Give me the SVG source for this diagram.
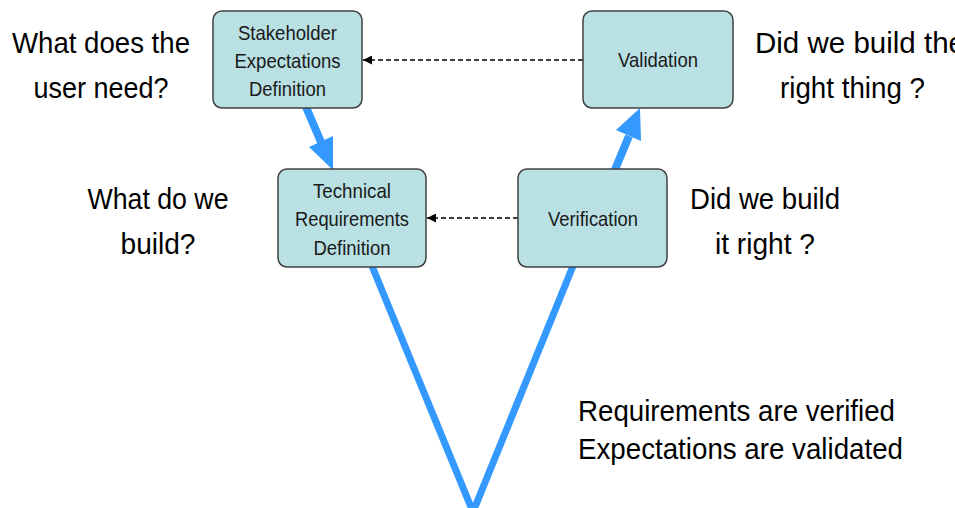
<svg xmlns="http://www.w3.org/2000/svg" width="955" height="508" viewBox="0 0 955 508">
<style>
.box{fill:#b9e0e3;stroke:#404040;stroke-width:1.5}
.bt{font-family:"Liberation Sans",Arial,sans-serif;font-size:21px;fill:#1a1a1a;text-anchor:middle}
.q{font-family:"Liberation Sans",Arial,sans-serif;font-size:30px;fill:#000}
.qm{text-anchor:middle}
.dash{fill:none;stroke:#000;stroke-width:1.3;stroke-dasharray:5 3}
.blue{fill:none;stroke:#3399ff;stroke-width:7}
.bshaft{fill:none;stroke:#3399ff;stroke-width:8}
.bhead{fill:#3399ff}
</style>
<defs>
<marker id="ah" viewBox="0 0 10 10" refX="10" refY="5" markerWidth="9" markerHeight="9" markerUnits="userSpaceOnUse" orient="auto">
<path d="M0,0 L10,5 L0,10 z" fill="#000"/>
</marker>
</defs>
<g id="connectors">
<line class="blue" x1="372" y1="266" x2="473" y2="512"/>
<line class="blue" x1="573" y1="266" x2="473" y2="512"/>
<line class="bshaft" x1="306" y1="107" x2="321" y2="142"/>
<polygon class="bhead" points="333,170 333,136 309,147"/>
<line class="bshaft" x1="614" y1="172" x2="629" y2="136"/>
<polygon class="bhead" points="640,108 641,141 616,130"/>
<line class="dash" x1="583" y1="60" x2="363" y2="60" marker-end="url(#ah)"/>
<line class="dash" x1="518" y1="218" x2="427" y2="218" marker-end="url(#ah)"/>
</g>
<g id="stakeholder">
<rect class="box" x="213" y="11" width="149" height="97" rx="9"/>
<text class="bt" x="287.5" y="40" textLength="99" lengthAdjust="spacingAndGlyphs">Stakeholder</text>
<text class="bt" x="287.5" y="68" textLength="106" lengthAdjust="spacingAndGlyphs">Expectations</text>
<text class="bt" x="287.5" y="96" textLength="77" lengthAdjust="spacingAndGlyphs">Definition</text>
</g>
<g id="technical">
<rect class="box" x="278" y="169" width="148" height="98" rx="9"/>
<text class="bt" x="352" y="198" textLength="78" lengthAdjust="spacingAndGlyphs">Technical</text>
<text class="bt" x="352" y="226" textLength="114" lengthAdjust="spacingAndGlyphs">Requirements</text>
<text class="bt" x="352" y="255" textLength="77" lengthAdjust="spacingAndGlyphs">Definition</text>
</g>
<g id="validation">
<rect class="box" x="583" y="11" width="150" height="97" rx="9"/>
<text class="bt" x="658" y="67" textLength="80" lengthAdjust="spacingAndGlyphs">Validation</text>
</g>
<g id="verification">
<rect class="box" x="518" y="169" width="149" height="98" rx="9"/>
<text class="bt" x="593" y="226" textLength="90" lengthAdjust="spacingAndGlyphs">Verification</text>
</g>
<g id="labels">
<text class="q qm" x="101" y="53" textLength="178" lengthAdjust="spacingAndGlyphs">What does the</text>
<text class="q qm" x="101" y="98" textLength="135" lengthAdjust="spacingAndGlyphs">user need?</text>
<text class="q qm" x="158" y="209" textLength="141" lengthAdjust="spacingAndGlyphs">What do we</text>
<text class="q qm" x="158" y="254" textLength="75" lengthAdjust="spacingAndGlyphs">build?</text>
<text class="q" x="755" y="53" textLength="210" lengthAdjust="spacingAndGlyphs">Did we build the</text>
<text class="q" x="780" y="98" textLength="145" lengthAdjust="spacingAndGlyphs">right thing ?</text>
<text class="q qm" x="765" y="209" textLength="150" lengthAdjust="spacingAndGlyphs">Did we build</text>
<text class="q qm" x="765" y="254" textLength="100" lengthAdjust="spacingAndGlyphs">it right ?</text>
<text class="q" x="578" y="421" textLength="317" lengthAdjust="spacingAndGlyphs">Requirements are verified</text>
<text class="q" x="578" y="459" textLength="325" lengthAdjust="spacingAndGlyphs">Expectations are validated</text>
</g>
</svg>
